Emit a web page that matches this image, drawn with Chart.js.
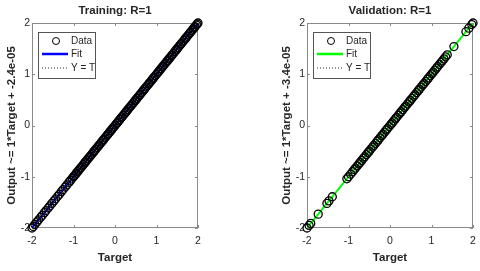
<!DOCTYPE html>
<html>
<head>
<meta charset="utf-8">
<script src="https://cdn.jsdelivr.net/npm/chart.js@4/dist/chart.umd.min.js"></script>
<style>
  html, body { margin: 0; padding: 0; background: #fff; }
  #wrap { position: relative; width: 480px; height: 271px; overflow: hidden; }
  canvas { position: absolute; top: 0; }
</style>
</head>
<body>
<div id="wrap">
  <canvas id="train" width="205" height="271" style="left:0px"></canvas>
  <canvas id="valid" width="205" height="271" style="left:275px"></canvas>
</div>
<script>
// ── Data ─────────────────────────────────────────────────────────
const axisTicks = [-2, -1, 0, 1, 2];
const fitX = [-2, 2];

// training set: sparse below -1, dense band above
const trainTarget = [
  -2, -1.97, -1.93, -1.88, -1.84, -1.79, -1.75, -1.7, -1.66, -1.61, -1.57, -1.52,
  -1.47, -1.43, -1.38, -1.34, -1.29, -1.25, -1.2, -1.16, -1.11, -1.07, -1.03,
  -1, -0.98, -0.95, -0.93, -0.9, -0.87, -0.84, -0.82, -0.79, -0.76, -0.73, -0.71,
  -0.68, -0.65, -0.62, -0.6, -0.57, -0.54, -0.51, -0.49, -0.46, -0.43, -0.4, -0.38,
  -0.35, -0.32, -0.29, -0.27, -0.24, -0.21, -0.18, -0.16, -0.13, -0.1, -0.07, -0.05,
  -0.02, 0.01, 0.04, 0.06, 0.09, 0.12, 0.15, 0.17, 0.2, 0.23, 0.26, 0.28, 0.31,
  0.34, 0.37, 0.39, 0.42, 0.45, 0.48, 0.5, 0.53, 0.56, 0.59, 0.61, 0.64, 0.67, 0.7,
  0.72, 0.75, 0.78, 0.81, 0.83, 0.86, 0.89, 0.92, 0.94, 0.97, 1.0, 1.03, 1.05, 1.08,
  1.11, 1.14, 1.16, 1.19, 1.22, 1.25, 1.27, 1.3, 1.33, 1.36, 1.38, 1.41, 1.44, 1.47,
  1.49, 1.52, 1.55, 1.58, 1.6, 1.63, 1.66, 1.69, 1.71, 1.74, 1.77, 1.8, 1.82, 1.85,
  1.88, 1.91, 1.93, 1.96, 1.98, 2.0,
];
// R=1: outputs sit on the targets at this resolution
const trainOutput = trainTarget;
const trainFitY = [-2.000024, 1.999976];

const validTarget = [
  -2, -1.95, -1.91, -1.73, -1.52, -1.47, -1.39, -1.04, -1.0, -0.95,
  -0.9, -0.86, -0.83, -0.79, -0.75, -0.72, -0.68, -0.64, -0.61, -0.57, -0.53, -0.5,
  -0.46, -0.42, -0.39, -0.35, -0.31, -0.28, -0.24, -0.2, -0.17, -0.13, -0.09, -0.06,
  -0.02, 0.02, 0.05, 0.09, 0.13, 0.16, 0.2, 0.24, 0.27, 0.31, 0.35, 0.38, 0.42, 0.46,
  0.49, 0.53, 0.57, 0.6, 0.64, 0.68, 0.71, 0.75, 0.79, 0.82, 0.86, 0.9, 0.93, 0.97,
  1.01, 1.04, 1.08, 1.12, 1.15, 1.19, 1.23, 1.26, 1.3, 1.34, 1.38,
  1.54, 1.83, 1.9, 1.97, 2.0,
];
const validOutput = validTarget;
const validFitY = [-2.000034, 1.999966];

const AX_CLR  = '#8a8a8a';
const TXT_CLR = '#262626';
const FONT    = 'Liberation Sans, Arial, sans-serif';

// ── Plugins ──────────────────────────────────────────────────────
// MATLAB-style box with inward ticks on all four sides
const boxPlugin = {
  id: 'box',
  beforeDatasetsDraw(chart) {
    const { ctx, chartArea: a, scales } = chart;
    ctx.save();
    ctx.strokeStyle = AX_CLR;
    ctx.lineWidth = 1;
    ctx.strokeRect(a.left + 0.5, a.top + 0.5, a.right - a.left - 1, a.bottom - a.top - 1);
    ctx.beginPath();
    axisTicks.forEach(v => {
      const px = Math.round(scales.x.getPixelForValue(v)) + 0.5;
      const py = Math.round(scales.y.getPixelForValue(v)) + 0.5;
      ctx.moveTo(px, a.bottom); ctx.lineTo(px, a.bottom - 3);
      ctx.moveTo(px, a.top);    ctx.lineTo(px, a.top + 3);
      ctx.moveTo(a.left, py);   ctx.lineTo(a.left + 3, py);
      ctx.moveTo(a.right, py);  ctx.lineTo(a.right - 3, py);
    });
    ctx.stroke();
    ctx.restore();
  },
};

// legend box inside the plot, top-left
const legendPlugin = {
  id: 'boxLegend',
  afterDatasetsDraw(chart) {
    const { ctx, chartArea: a } = chart;
    const ds = chart.data.datasets;
    const bx = a.left + 6, by = a.top + 9, bw = 57, bh = 46;
    ctx.save();
    ctx.fillStyle = '#fff';
    ctx.fillRect(bx, by, bw, bh);
    ctx.strokeStyle = '#555';
    ctx.lineWidth = 1;
    ctx.strokeRect(bx + 0.5, by + 0.5, bw, bh);
    ctx.font = '10px ' + FONT;
    ctx.textBaseline = 'middle';
    ctx.fillStyle = TXT_CLR;
    const rows = [9, 22, 36];
    ds.forEach((d, i) => {
      const y = by + rows[i];
      if (d.showLine) {
        ctx.beginPath();
        ctx.strokeStyle = d.borderColor;
        ctx.lineWidth = d.borderDash ? d.borderWidth : 2.5;
        ctx.setLineDash(d.borderDash || []);
        ctx.moveTo(bx + 4, y);
        ctx.lineTo(bx + 30, y);
        ctx.stroke();
        ctx.setLineDash([]);
      } else {
        ctx.beginPath();
        ctx.strokeStyle = d.pointBorderColor;
        ctx.lineWidth = 1;
        ctx.arc(bx + 18, y, 3.5, 0, Math.PI * 2);
        ctx.stroke();
      }
      ctx.fillText(d.label, bx + 33, y);
    });
    ctx.restore();
  },
};

// ── Build ────────────────────────────────────────────────────────
function buildPanel(id, title, yTitle, targets, outputs, fitY, fitColor) {
  const pts = targets.map((t, i) => ({ x: t, y: outputs[i] }));
  const fitPts = fitX.map((x, i) => ({ x, y: fitY[i] }));
  const diagPts = fitX.map(x => ({ x, y: x }));

  const axis = (titleText, pad) => ({
    type: 'linear',
    min: -2,
    max: 2,
    afterBuildTicks: s => { s.ticks = axisTicks.map(v => ({ value: v })); },
    grid: { display: false, drawTicks: false, tickLength: 0 },
    border: { display: false },
    ticks: { color: TXT_CLR, font: { family: FONT, size: 10.5 }, padding: pad },
    title: {
      display: true,
      text: titleText,
      color: TXT_CLR,
      font: { family: FONT, size: 11.5, weight: 'bold' },
    },
  });

  const xAxis = axis('Target', 7);
  xAxis.title.padding = { top: 4, bottom: 6 };
  xAxis.afterFit = s => { s.height = 43; s.paddingLeft = 0; s.paddingRight = 0; };
  const yAxis = axis(yTitle, 2);
  yAxis.title.padding = { top: 5, bottom: 4 };
  yAxis.afterFit = s => { s.width = 32; s.paddingTop = 0; s.paddingBottom = 0; };

  return new Chart(document.getElementById(id), {
    type: 'scatter',
    data: {
      datasets: [
        {
          label: 'Data',
          data: pts,
          showLine: false,
          pointStyle: 'circle',
          pointRadius: 4,
          pointBorderWidth: 1.3,
          pointBorderColor: '#000',
          pointBackgroundColor: 'transparent',
          clip: false,
        },
        {
          label: 'Fit',
          data: fitPts,
          showLine: true,
          borderColor: fitColor,
          borderWidth: 2,
          pointRadius: 0,
        },
        {
          label: 'Y = T',
          data: diagPts,
          showLine: true,
          borderColor: '#333',
          borderWidth: 1,
          borderDash: [1, 2],
          pointRadius: 0,
        },
      ],
    },
    options: {
      responsive: false,
      animation: false,
      devicePixelRatio: 1,
      layout: { padding: { top: 0, right: 7, left: 0, bottom: 0 } },
      plugins: {
        legend: { display: false },
        tooltip: { enabled: false },
        title: {
          display: true,
          text: title,
          color: TXT_CLR,
          fullSize: false,
          font: { family: FONT, size: 11.5, weight: 'bold' },
          padding: { top: 4, bottom: 5.2 },
        },
      },
      scales: { x: xAxis, y: yAxis },
    },
    plugins: [boxPlugin, legendPlugin],
  });
}

buildPanel('train', 'Training: R=1', 'Output ~= 1*Target + -2.4e-05',
  trainTarget, trainOutput, trainFitY, '#0000ff');
buildPanel('valid', 'Validation: R=1', 'Output ~= 1*Target + -3.4e-05',
  validTarget, validOutput, validFitY, '#00ff00');
</script>
</body>
</html>
